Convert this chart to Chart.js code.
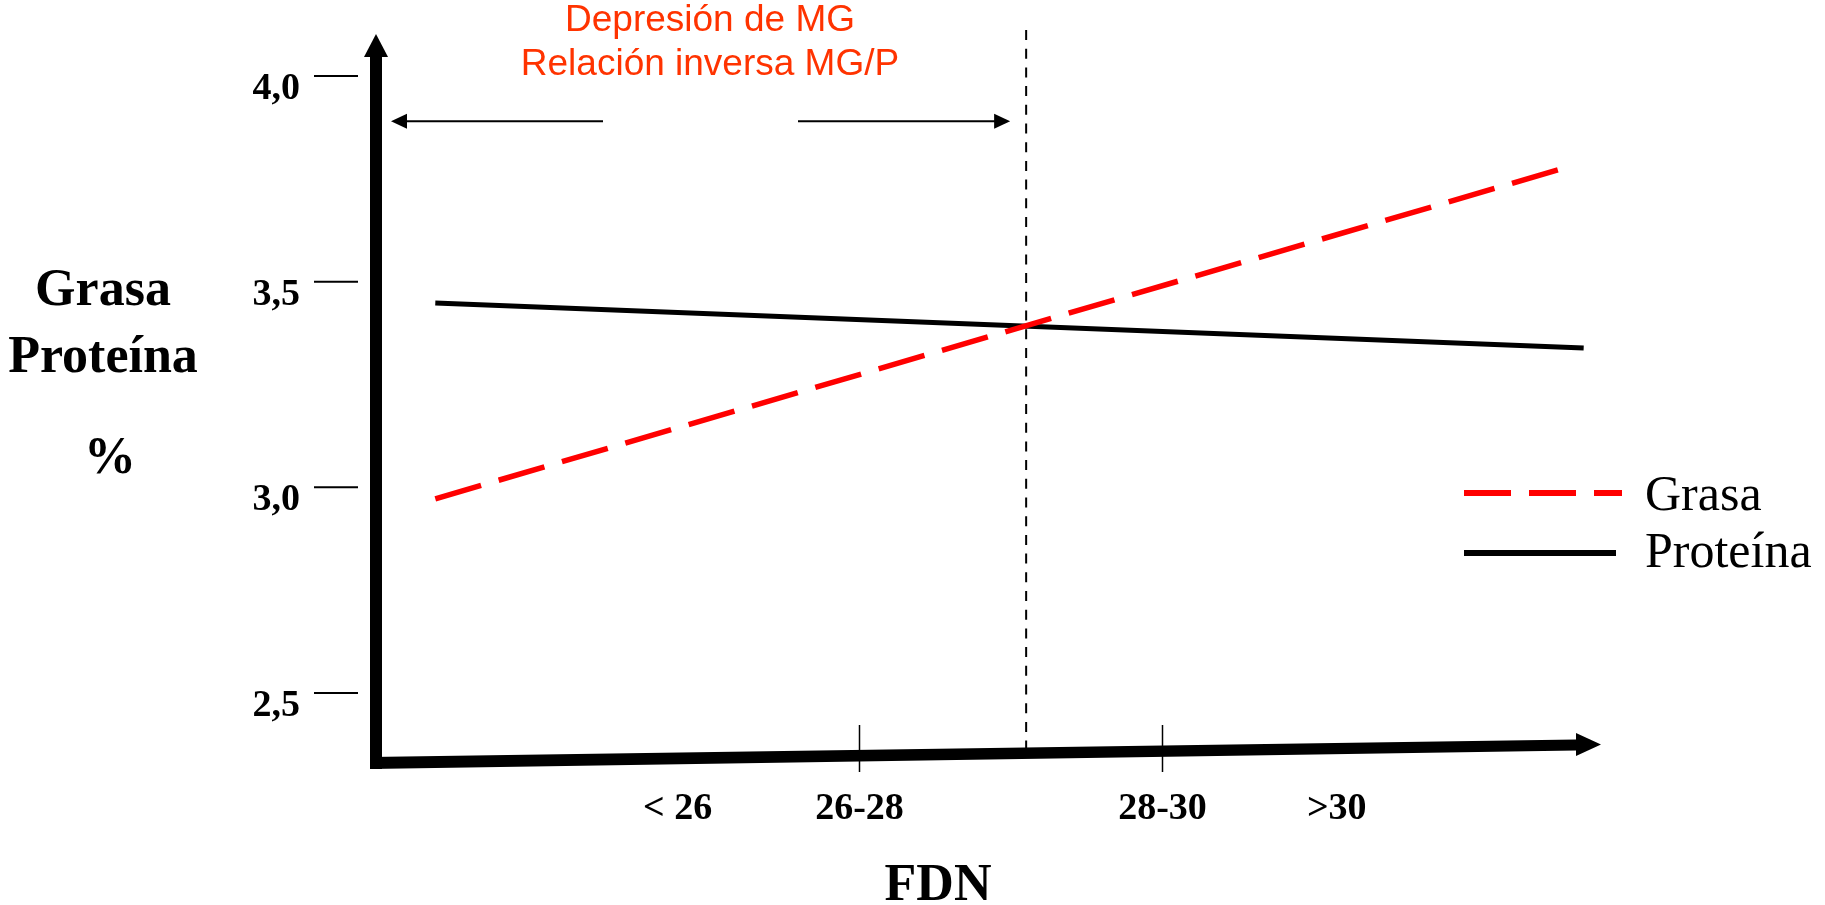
<!DOCTYPE html>
<html lang="es">
<head>
<meta charset="utf-8">
<title>Grasa y proteína según FDN</title>
<script src="https://cdn.jsdelivr.net/npm/chart.js@4"></script>
<style>
  html, body { margin: 0; padding: 0; background: #fff; }
  #grafico { display: block; }
</style>
</head>
<body>
<canvas id="grafico" width="1825" height="905"></canvas>
<script>
// FDN (%) en x, % de grasa / proteína en y (líneas rectas del esquema)
const grasaX = [24.2, 31.61];
const grasaY = [2.972, 3.772];
const proteinaX = [24.2, 31.78];
const proteinaY = [3.448, 3.339];

// etiquetas de los ejes
const categoriasFDN = ['< 26', '26-28', '28-30', '>30'];
const posicionesFDN = [25.8, 27, 29, 30.15];
const marcasFDN = [27, 29];
const ticksY = [4.0, 3.5, 3.0, 2.5];
const etiquetasY = ['4,0', '3,5', '3,0', '2,5'];

// límite de FDN y la nota
const limiteFDN = 28.1;
const alturaFlecha = 3.89;
const nota = ['Depresión de MG', 'Relación inversa MG/P'];

const serif = '"Liberation Serif", "Times New Roman", serif';
const sans = '"Liberation Sans", Arial, sans-serif';

function flecha(ctx, x0, x1, y) {
  // línea fina con punta en x1
  const dir = Math.sign(x1 - x0);
  ctx.beginPath();
  ctx.moveTo(x0, y);
  ctx.lineTo(x1 - dir * 14, y);
  ctx.stroke();
  ctx.beginPath();
  ctx.moveTo(x1, y);
  ctx.lineTo(x1 - dir * 16, y - 7.5);
  ctx.lineTo(x1 - dir * 16, y + 7.5);
  ctx.closePath();
  ctx.fill();
}

const decoracion = {
  id: 'decoracion',
  beforeDatasetsDraw(chart) {
    const { ctx, scales: { x } } = chart;
    const xl = x.getPixelForValue(limiteFDN);
    ctx.save();
    ctx.strokeStyle = '#000';
    ctx.lineWidth = 2;
    ctx.setLineDash([10, 8.7]);
    ctx.beginPath();
    ctx.moveTo(xl, 30);
    ctx.lineTo(xl, 752);
    ctx.stroke();
    ctx.restore();
  },
  afterDraw(chart) {
    const { ctx, scales: { x, y } } = chart;
    ctx.save();
    ctx.fillStyle = '#000';
    ctx.strokeStyle = '#000';

    // eje y con flecha
    ctx.fillRect(370, 57, 12, 712);
    ctx.beginPath();
    ctx.moveTo(376, 34);
    ctx.lineTo(364, 57);
    ctx.lineTo(388, 57);
    ctx.closePath();
    ctx.fill();

    // eje x (algo inclinado, como en el original) con flecha
    ctx.beginPath();
    ctx.moveTo(370, 757);
    ctx.lineTo(1576, 739.5);
    ctx.lineTo(1576, 733);
    ctx.lineTo(1601, 744.5);
    ctx.lineTo(1576, 756);
    ctx.lineTo(1576, 750.5);
    ctx.lineTo(370, 769);
    ctx.closePath();
    ctx.fill();

    // marcas del eje x
    ctx.lineWidth = 1.5;
    marcasFDN.forEach(v => {
      const px = x.getPixelForValue(v);
      ctx.beginPath();
      ctx.moveTo(px, 725);
      ctx.lineTo(px, 772);
      ctx.stroke();
    });

    // marcas y etiquetas del eje y
    ctx.lineWidth = 2;
    ctx.font = 'bold 38px ' + serif;
    ctx.textAlign = 'right';
    ctx.textBaseline = 'middle';
    ticksY.forEach((v, i) => {
      const py = y.getPixelForValue(v);
      ctx.beginPath();
      ctx.moveTo(314, py);
      ctx.lineTo(358, py);
      ctx.stroke();
      ctx.fillText(etiquetasY[i], 300, py + 13);
    });

    // etiquetas del eje x
    ctx.textAlign = 'center';
    categoriasFDN.forEach((c, i) => {
      ctx.fillText(c, x.getPixelForValue(posicionesFDN[i]), 809);
    });

    // títulos de los ejes
    ctx.font = 'bold 52px ' + serif;
    ctx.textBaseline = 'alphabetic';
    ctx.fillText('Grasa', 103, 305);
    ctx.fillText('Proteína', 103, 372);
    ctx.fillText('%', 110, 473);
    ctx.fillText('FDN', 938, 900);

    // nota en rojo y flechas dobles
    ctx.font = '37px ' + sans;
    ctx.fillStyle = '#ff3300';
    ctx.fillText(nota[0], 710, 31);
    ctx.fillText(nota[1], 710, 75);

    ctx.fillStyle = '#000';
    ctx.lineWidth = 2;
    const yf = y.getPixelForValue(alturaFlecha);
    const xl = x.getPixelForValue(limiteFDN);
    flecha(ctx, 603, 391, yf);
    flecha(ctx, 798, xl - 16, yf);

    // leyenda
    const filas = [{ y: 493, base: 510 }, { y: 553, base: 567 }];
    ctx.font = '50px ' + serif;
    ctx.textAlign = 'left';
    chart.data.datasets.forEach((ds, i) => {
      const f = filas[i];
      ctx.strokeStyle = ds.borderColor;
      ctx.lineWidth = 6;
      ctx.setLineDash(i === 0 ? [47, 18] : []);
      ctx.beginPath();
      ctx.moveTo(1464, f.y);
      ctx.lineTo(i === 0 ? 1622 : 1616, f.y);
      ctx.stroke();
      ctx.setLineDash([]);
      ctx.fillText(ds.label, 1645, f.base);
    });
    ctx.restore();
  }
};

new Chart(document.getElementById('grafico'), {
  type: 'line',
  data: {
    datasets: [
      {
        label: 'Grasa',
        data: grasaX.map((v, i) => ({ x: v, y: grasaY[i] })),
        borderColor: '#ff0000',
        borderWidth: 5.5,
        borderDash: [47.7, 18.3],
        pointRadius: 0,
        tension: 0,
        fill: false
      },
      {
        label: 'Proteína',
        data: proteinaX.map((v, i) => ({ x: v, y: proteinaY[i] })),
        borderColor: '#000000',
        borderWidth: 5,
        pointRadius: 0,
        tension: 0,
        fill: false
      }
    ]
  },
  options: {
    responsive: false,
    animation: false,
    layout: { padding: { left: 405, right: 208, top: 35, bottom: 171 } },
    scales: {
      x: { type: 'linear', min: 24, max: 32, display: false },
      y: { type: 'linear', min: 2.4, max: 4.1, display: false }
    },
    plugins: {
      legend: { display: false },
      tooltip: { enabled: false }
    }
  },
  plugins: [decoracion]
});
</script>
</body>
</html>
